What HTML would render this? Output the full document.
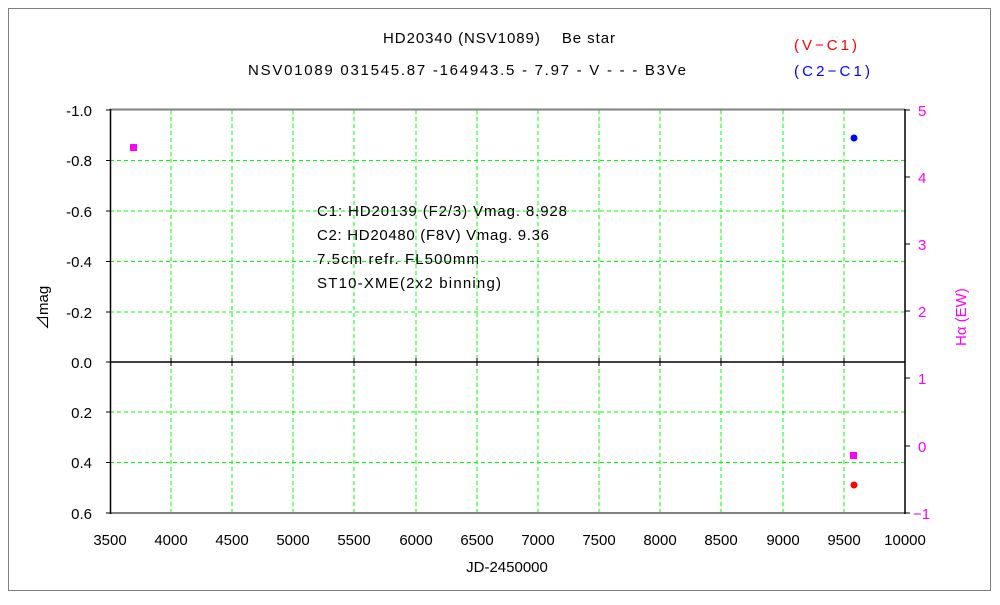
<!DOCTYPE html>
<html><head><meta charset="utf-8"><style>
body{margin:0;background:#fff;}
svg text{font-family:"Liberation Sans","Noto Sans CJK JP",sans-serif;font-size:15px;}
</style></head><body>
<svg width="1000" height="600" viewBox="0 0 1000 600" xmlns="http://www.w3.org/2000/svg">
<rect x="0" y="0" width="1000" height="600" fill="#fff"/>
<rect x="8.5" y="8.5" width="982" height="582" fill="none" stroke="#808080" stroke-width="1"/>
<g stroke="#00ff00" stroke-width="1" stroke-dasharray="4,3">
<line x1="171" y1="110" x2="171" y2="513"/><line x1="232" y1="110" x2="232" y2="513"/>
<line x1="293" y1="110" x2="293" y2="513"/><line x1="354" y1="110" x2="354" y2="513"/>
<line x1="416" y1="110" x2="416" y2="513"/><line x1="477" y1="110" x2="477" y2="513"/>
<line x1="538" y1="110" x2="538" y2="513"/><line x1="599" y1="110" x2="599" y2="513"/>
<line x1="660" y1="110" x2="660" y2="513"/><line x1="721" y1="110" x2="721" y2="513"/>
<line x1="783" y1="110" x2="783" y2="513"/><line x1="844" y1="110" x2="844" y2="513"/>
<line x1="110" y1="160.5" x2="905" y2="160.5"/><line x1="110" y1="211" x2="905" y2="211"/>
<line x1="110" y1="261.5" x2="905" y2="261.5"/><line x1="110" y1="312" x2="905" y2="312"/>
<line x1="110" y1="412" x2="905" y2="412"/><line x1="110" y1="462.5" x2="905" y2="462.5"/>
</g>
<line x1="110" y1="109.5" x2="905" y2="109.5" stroke="#808080" stroke-width="2"/>
<line x1="110" y1="513" x2="905" y2="513" stroke="#808080" stroke-width="2"/>
<line x1="110.5" y1="109" x2="110.5" y2="514" stroke="#000" stroke-width="1.5"/>
<line x1="905" y1="109" x2="905" y2="514" stroke="#000" stroke-width="1.5"/>
<line x1="110" y1="362" x2="905" y2="362" stroke="#000" stroke-width="1.5"/>
<g stroke="#000" stroke-width="1">
<line x1="106" y1="110" x2="110" y2="110"/><line x1="106" y1="160.5" x2="110" y2="160.5"/>
<line x1="106" y1="211" x2="110" y2="211"/><line x1="106" y1="261.5" x2="110" y2="261.5"/>
<line x1="106" y1="312" x2="110" y2="312"/><line x1="106" y1="362" x2="110" y2="362"/>
<line x1="106" y1="412" x2="110" y2="412"/><line x1="106" y1="462.5" x2="110" y2="462.5"/>
<line x1="106" y1="513" x2="110" y2="513"/>
<line x1="905" y1="110" x2="910" y2="110"/><line x1="905" y1="177" x2="910" y2="177"/>
<line x1="905" y1="244" x2="910" y2="244"/><line x1="905" y1="311" x2="910" y2="311"/>
<line x1="905" y1="378" x2="910" y2="378"/><line x1="905" y1="446" x2="910" y2="446"/>
<line x1="905" y1="513" x2="910" y2="513"/>
<line x1="171" y1="358" x2="171" y2="366"/><line x1="232" y1="358" x2="232" y2="366"/>
<line x1="293" y1="358" x2="293" y2="366"/><line x1="354" y1="358" x2="354" y2="366"/>
<line x1="416" y1="358" x2="416" y2="366"/><line x1="477" y1="358" x2="477" y2="366"/>
<line x1="538" y1="358" x2="538" y2="366"/><line x1="599" y1="358" x2="599" y2="366"/>
<line x1="660" y1="358" x2="660" y2="366"/><line x1="721" y1="358" x2="721" y2="366"/>
<line x1="783" y1="358" x2="783" y2="366"/><line x1="844" y1="358" x2="844" y2="366"/>
</g>
<g text-anchor="end" fill="#000">
<text x="92" y="116">-1.0</text><text x="92" y="166">-0.8</text><text x="92" y="217">-0.6</text>
<text x="92" y="267">-0.4</text><text x="92" y="318">-0.2</text><text x="92" y="368">0.0</text>
<text x="92" y="418">0.2</text><text x="92" y="468">0.4</text><text x="92" y="519">0.6</text>
</g>
<g text-anchor="middle" fill="#000">
<text x="110" y="545">3500</text><text x="171" y="545">4000</text><text x="232" y="545">4500</text>
<text x="293" y="545">5000</text><text x="354" y="545">5500</text><text x="416" y="545">6000</text>
<text x="477" y="545">6500</text><text x="538" y="545">7000</text><text x="599" y="545">7500</text>
<text x="660" y="545">8000</text><text x="721" y="545">8500</text><text x="783" y="545">9000</text>
<text x="844" y="545">9500</text><text x="905" y="545">10000</text>
<text x="507" y="572">JD-2450000</text>
</g>
<text x="383" y="43" fill="#000" textLength="232" lengthAdjust="spacing">HD20340 (NSV1089)　 Be star</text>
<text x="248" y="75" fill="#000" textLength="438" lengthAdjust="spacing">NSV01089 031545.87 -164943.5 - 7.97 - V - - - B3Ve</text>
<g fill="#ff00ff" font-size="16">
<text x="918" y="116">5</text><text x="918" y="183">4</text><text x="918" y="250">3</text>
<text x="918" y="317">2</text><text x="918" y="384">1</text><text x="918" y="452">0</text>
<text x="913" y="519">−1</text>
<text transform="translate(966,346) rotate(-90)">Hα (EW)</text>
</g>
<text transform="translate(48,330) rotate(-90)" fill="#000">⊿mag</text>
<text x="794" y="50" fill="#ff0000" font-size="16" textLength="63" lengthAdjust="spacing">(V−C1)</text>
<text x="794" y="76" fill="#0000ff" font-size="16" textLength="76" lengthAdjust="spacing">(C2−C1)</text>
<g fill="#000">
<text x="317" y="216" textLength="250" lengthAdjust="spacing">C1: HD20139 (F2/3) Vmag. 8.928</text>
<text x="317" y="240" textLength="232" lengthAdjust="spacing">C2: HD20480 (F8V) Vmag. 9.36</text>
<text x="317" y="264" textLength="162" lengthAdjust="spacing">7.5cm refr. FL500mm</text>
<text x="317" y="288" textLength="184" lengthAdjust="spacing">ST10-XME(2x2 binning)</text>
</g>
<rect x="130" y="144" width="7" height="7" fill="#ff00ff"/>
<rect x="850" y="452" width="7" height="7" fill="#ff00ff"/>
<circle cx="854" cy="138" r="3.5" fill="#0000ff"/>
<circle cx="854" cy="485" r="3.5" fill="#ff0000"/>
</svg>
</body></html>
